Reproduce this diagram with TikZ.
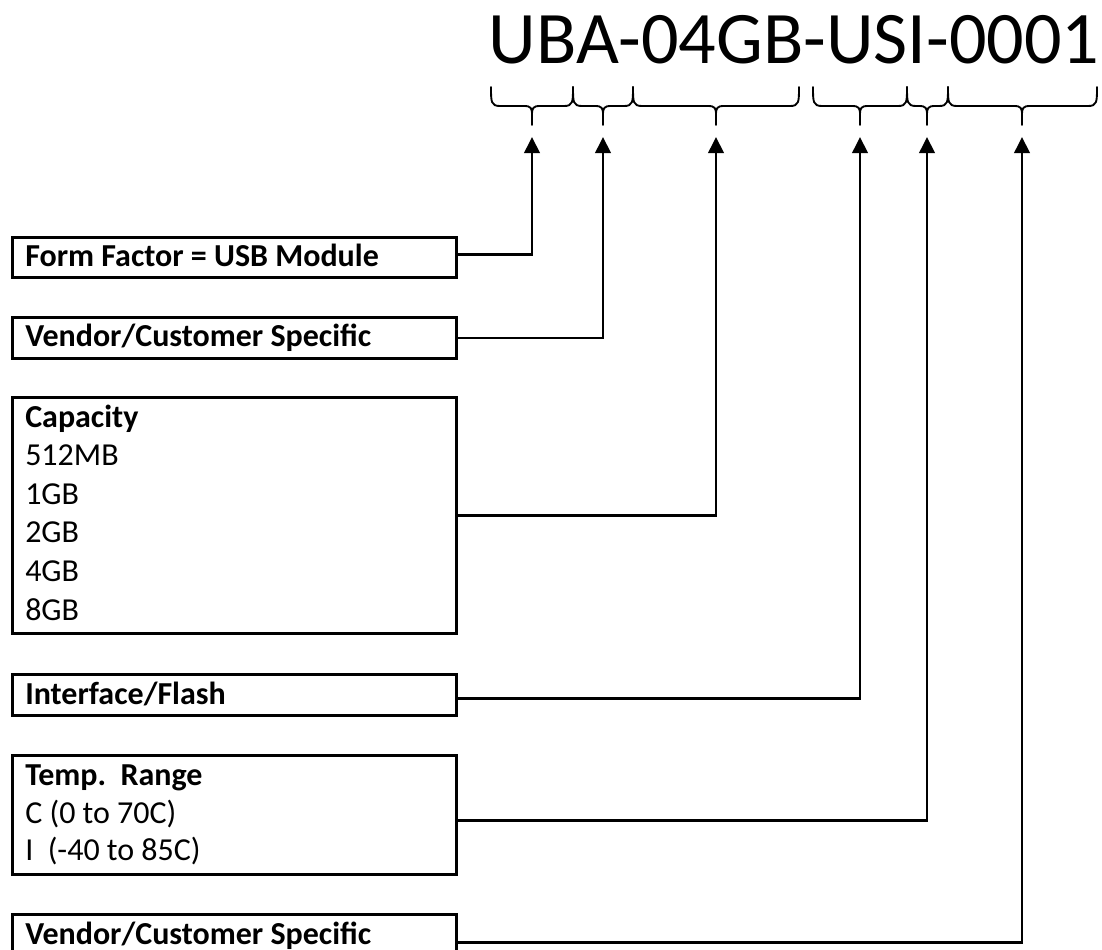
\documentclass[tikz,border=0pt]{standalone}
\usepackage{fontspec}
\setmainfont{Carlito}
\usetikzlibrary{arrows.meta,calc}

% one unit = one pixel, y grows downwards
\tikzset{
  partbox/.style={draw, line width=2pt, minimum width=444*0.75pt, anchor=north west, inner sep=0pt},
  boxtext/.style={anchor=base west, inner sep=0pt, font=\fontsize{24}{29}\selectfont},
  boxhead/.style={boxtext, font=\fontsize{24}{29}\selectfont\bfseries},
  bracestyle/.style={line width=1.4pt, line cap=round, line join=round},
  conn/.style={line width=2pt, -{Triangle[length=12pt, width=11.5pt]}},
  codetext/.style={anchor=base, inner sep=0pt, font=\fontsize{55.6}{60}\selectfont}
}

% curly brace under a part of the code: left end, tip, right end
\newcommand\partbrace[3]{%
  \draw[bracestyle] (#1,87) .. controls (#1,102) and (#1,106) .. (#1+9,106)
    -- (#2-8,106) .. controls (#2-1,106) and (#2,108) .. (#2,115) -- (#2,125)
    (#2,115) .. controls (#2,108) and (#2+1,106) .. (#2+8,106)
    -- (#3-9,106) .. controls (#3,106) and (#3,102) .. (#3,87);}

\begin{document}
\begin{tikzpicture}[x=0.75pt, y=-0.75pt]
\useasboundingbox (0,0) rectangle (1102,949);
\clip (0,0) rectangle (1102,949);

% part number
\node[codetext] (code) at (794,64) {UBA-04GB-USI-0001};

% braces under each field
\partbrace{491}{532}{573}
\partbrace{573}{603}{633}
\partbrace{633}{716}{799}
\partbrace{813}{860}{907}
\partbrace{907}{927}{948}
\partbrace{948}{1022}{1097}

% arrow targets below the braces
\coordinate (t1) at (532,137);
\coordinate (t2) at (603,137);
\coordinate (t3) at (716,137);
\coordinate (t4) at (860,137);
\coordinate (t5) at (927,137);
\coordinate (t6) at (1022,137);

% description boxes
\node[partbox, minimum height=40*0.75pt] (form) at (11,236) {};
\node[boxhead] (formtxt) at ($(form.north west)+(14,30)$) {Form Factor = USB Module};

\node[partbox, minimum height=41*0.75pt] (vend) at (11,316) {};
\node[boxhead] (vendtxt) at ($(vend.north west)+(14,30)$) {Vendor/Customer Specific};

\node[partbox, minimum height=236*0.75pt] (cap) at (11,396) {};
\node[boxhead] (cap0) at ($(cap.north west)+(14,31)$) {Capacity};
\node[boxtext] (cap1) at ($(cap.north west)+(14,69.6)$) {512MB};
\node[boxtext] (cap2) at ($(cap.north west)+(14,108.2)$) {1GB};
\node[boxtext] (cap3) at ($(cap.north west)+(14,146.8)$) {2GB};
\node[boxtext] (cap4) at ($(cap.north west)+(14,185.4)$) {4GB};
\node[boxtext] (cap5) at ($(cap.north west)+(14,224)$) {8GB};

\node[partbox, minimum height=41*0.75pt] (intf) at (11,673) {};
\node[boxhead] (intftxt) at ($(intf.north west)+(14,31)$) {Interface/Flash};

\node[partbox, minimum height=119*0.75pt] (temp) at (11,754) {};
\node[boxhead] (temp0) at ($(temp.north west)+(14,31)$) {Temp.\ \ Range};
\node[boxtext] (temp1) at ($(temp.north west)+(14,69.5)$) {C (0 to 70C)};
\node[boxtext] (temp2) at ($(temp.north west)+(14,106)$) {I\ \ (-40 to 85C)};

\node[partbox, minimum height=56*0.75pt] (cust) at (11,913) {};
\node[boxhead] (custtxt) at ($(cust.north west)+(14,31)$) {Vendor/Customer Specific};

% connectors from each box up to its field
\draw[conn] ([yshift=2pt]form.east) -| (t1);
\draw[conn] (vend.east) -| (t2);
\draw[conn] (cap.east) -| (t3);
\draw[conn] ([yshift=-2.5pt]intf.east) -| (t4);
\draw[conn] ([yshift=-4pt]temp.east) -| (t5);
\draw[conn] (cust.east) -| (t6);
\end{tikzpicture}
\end{document}
